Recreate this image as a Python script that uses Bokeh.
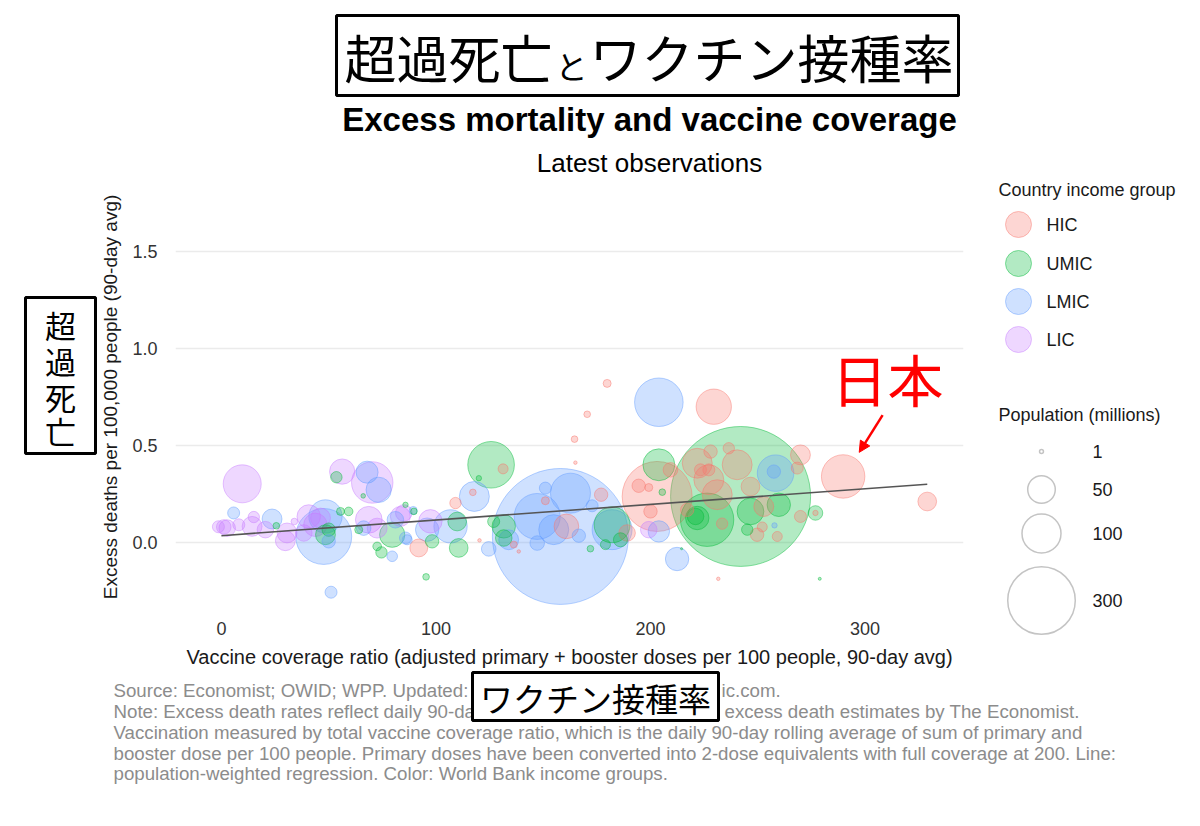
import numpy as np
from bokeh.plotting import figure
from bokeh.models import Range1d, ColumnDataSource, Arrow, NormalHead, FixedTicker, NumeralTickFormatter, Plot
from bokeh.layouts import column, row
from bokeh.embed import file_html
from bokeh.resources import INLINE
from bokeh.core.properties import value

# ---------------- data ----------------
groups = ["HIC", "UMIC", "LMIC", "LIC"]
group_colors = ["#F8766D", "#00BA38", "#619CFF", "#C77CFF"]

hic_x = [92.0, 131.3, 117.2, 109.1, 120.3, 151.0, 160.8, 177.0, 136.3, 138.6, 179.8, 170.5, 164.6, 165.0,
         229.5, 203.1, 209.3, 194.5, 199.2, 200.0, 231.6, 221.8, 223.3, 227.2, 228.0, 236.5, 240.4, 227.2,
         231.1, 269.9, 246.6, 268.4, 217.1, 233.4, 252.8, 249.7, 252.1, 259.1, 269.9, 276.9, 289.8, 329.0, 189.1]
hic_y = [-0.027, 0.38, 0.259, 0.204, 0.012, 0.216, 0.084, 0.247, -0.010, -0.045, 0.820, 0.661, 0.533, 0.412,
         0.700, 0.238, 0.375, 0.293, 0.284, 0.161, -0.186, 0.409, 0.375, 0.375, 0.469, 0.486, 0.401, 0.324,
         0.247, 0.452, 0.289, 0.384, 0.169, 0.098, 0.186, 0.041, 0.081, 0.032, 0.135, 0.153, 0.341, 0.212, 0.050]
hic_pop = [21, 6.6, 2.9, 8.5, 0.8, 4.2, 40, 11.8, 3.2, 0.8, 4.2, 2.9, 2.9, 0.8,
           82, 322, 14, 11.8, 4.2, 11.8, 0.8, 59, 9.5, 9.5, 11.8, 8.5, 59, 59,
           59, 26, 23, 9.5, 11.8, 8.5, 26, 11.8, 6.6, 6.6, 9.5, 1.9, 124, 23, 18]

umic_x = [53.6, 66.1, 55.5, 59.3, 64.0, 79.6, 85.8, 72.6, 74.6, 48.5, 50.0, 25.6, 125.7, 120.0, 110.6, 95.4,
          109.9, 98.2, 89.7, 131.6, 131.6, 126.9, 182.1, 172.0, 203.9, 205.5, 214.5, 278.9, 242.0, 226.4,
          221.8, 221.0, 246.6, 259.8, 245.1, 276.9, 186.0, 179.0]
umic_y = [0.337, 0.241, 0.161, 0.161, 0.067, 0.041, 0.195, -0.019, -0.050, 0.041, 0.067, 0.087, 0.401, 0.332,
          -0.027, -0.176, 0.109, 0.007, 0.161, 0.084, 0.024, 0.109, 0.092, -0.031, 0.401, 0.260, -0.031, -0.186,
          0.238, 0.118, 0.127, 0.135, 0.161, 0.195, 0.067, 0.153, 0.015, -0.010]
umic_pop = [8.5, 1.4, 4.2, 4.9, 4.2, 42, 1.9, 4.9, 8.5, 26, 11.8, 2.9, 143, 1.9, 23, 2.9,
            23, 11.8, 2.9, 36, 18, 9.5, 85, 2.9, 67, 2.9, 0.3, 0.6, 1289, 187,
            36, 18, 47, 36, 8.5, 14, 13, 6.6]

lmic_x = [5.7, 23.6, 47.7, 48.5, 50.0, 67.9, 73.3, 66.3, 81.1, 89.4, 79.6, 85.8, 51.1, 117.9, 124.6, 106.8,
          95.9, 158.0, 162.7, 147.2, 151.0, 154.9, 147.2, 166.6, 172.8, 182.1, 133.9, 203.9, 203.9, 212.4,
          258.3, 257.5, 257.8, 86.6]
lmic_y = [0.153, 0.122, 0.032, 0.135, 0.007, 0.363, 0.272, 0.075, 0.118, 0.166, -0.070, 0.024, -0.255, 0.238,
          -0.032, 0.084, 0.067, 0.032, 0.255, 0.135, 0.281, 0.067, -0.002, 0.036, 0.190, 0.067, 0.015, 0.723,
          0.058, -0.084, 0.358, 0.366, 0.089, 0.015]
lmic_pop = [9.5, 26, 206, 73, 11.8, 32, 42, 14, 18, 4.2, 7.4, 9.5, 9.5, 59, 14, 73,
            36, 1216, 105, 139, 9.5, 59, 14, 11.8, 9.5, 105, 26, 155, 30, 36,
            88, 11.8, 1.9, 6.6]

lic_x = [9.7, 1.1, 8.1, 15.1, 20.5, 29.8, 30.6, 34.0, 40.7, 38.4, 46.2, 56.3, 70.3, 68.7, 72.6, 83.4,
         2.7, 97.4, 85.0, 199.2, -1.4, 14.3, 43.8]
lic_y = [0.303, 0.081, 0.092, 0.132, 0.067, 0.010, 0.050, 0.109, 0.135, 0.050, 0.127, 0.366, 0.310, 0.118,
         0.075, 0.135, 0.075, 0.110, 0.153, 0.067, 0.082, 0.084, 0.092]
lic_pop = [95, 14, 9.5, 8.5, 18, 26, 26, 2.9, 36, 18, 26, 42, 113, 47, 26, 26,
           18, 36, 18, 18, 9.5, 26, 36]

# population-weighted regression line
reg_x = [0, 329]
reg_y = [0.036, 0.301]

x_ticks = [0, 100, 200, 300]
y_ticks = [0, 0.5, 1.0, 1.5]
size_legend_pops = [1, 50, 100, 300]

SIZE_K = 3.9  # diameter px per sqrt(million)

HAS_FRAME_ALIGN = "frame_align" in Plot.properties()


def no_align(f):
    if HAS_FRAME_ALIGN:
        f.frame_align = False
    return f


# ---------------- helpers ----------------
def deco(width, height, x0, x1, y0, y1):
    f = figure(width=width, height=height, x_range=Range1d(x0, x1), y_range=Range1d(y1, y0),
               x_axis_type=None, y_axis_type=None, min_border=0, toolbar_location=None,
               output_backend="svg", outline_line_color=None)
    f.grid.visible = False
    return no_align(f)

SANS = value("Liberation Sans")
CJK = value("Noto Sans CJK JP")

# ---------------- top titles ----------------
top = deco(1192, 178, 0, 1192, 0, 178)
top.quad(left=[336], right=[958], top=[15], bottom=[95], fill_color="white", line_color="black", line_width=3)
top.text(x=[344], y=[56], text=["超過死亡"], text_font=CJK, text_font_size="52px",
         text_baseline="middle", text_align="left", text_color="black")
top.text(x=[555], y=[64], text=["と"], text_font=CJK, text_font_size="32px",
         text_baseline="middle", text_align="left", text_color="black")
top.text(x=[589], y=[56], text=["ワクチン接種率"], text_font=CJK, text_font_size="52px",
         text_baseline="middle", text_align="left", text_color="black")
top.text(x=[649], y=[119], text=["Excess mortality and vaccine coverage"], text_font=SANS,
         text_font_size="33px", text_font_style="bold", text_baseline="middle", text_align="center",
         text_color="black")
top.text(x=[649], y=[162], text=["Latest observations"], text_font=SANS, text_font_size="26px",
         text_baseline="middle", text_align="center", text_color="black")

# ---------------- left box ----------------
left = deco(97, 492, 0, 97, 178, 670)
left.quad(left=[25], right=[95], top=[297], bottom=[453], fill_color="white", line_color="black", line_width=3)
left.text(x=[60, 60, 60, 60], y=[324, 360, 396, 430], text=["超", "過", "死", "亡"], text_font=CJK,
          text_font_size="31px", text_baseline="middle", text_align="center", text_color="black")

# ---------------- main plot ----------------
p = figure(width=883, height=492, x_range=Range1d(-21.4, 345.9), y_range=Range1d(-0.344, 1.844),
           min_border_left=78, min_border_right=17, min_border_top=6, min_border_bottom=60,
           toolbar_location=None, output_backend="svg", outline_line_color=None)
no_align(p)
p.xgrid.visible = False
p.ygrid.grid_line_color = "#ebebeb"
p.ygrid.grid_line_width = 1.5
p.xaxis.ticker = FixedTicker(ticks=x_ticks)
p.yaxis.ticker = FixedTicker(ticks=y_ticks)
p.yaxis.formatter = NumeralTickFormatter(format="0.0")
for ax in (p.xaxis, p.yaxis):
    ax.axis_line_color = None
    ax.major_tick_line_color = None
    ax.minor_tick_line_color = None
    ax.major_label_text_font = "Liberation Sans"
    ax.major_label_text_font_size = "18px"
    ax.major_label_text_color = "#333333"
    ax.axis_label_text_font = "Liberation Sans"
    ax.axis_label_text_font_size = "20px"
    ax.axis_label_text_font_style = "normal"
    ax.axis_label_text_color = "#1a1a1a"
p.yaxis.axis_label_text_font_size = "19px"
p.xaxis.major_label_standoff = 6
p.yaxis.major_label_standoff = 12
p.xaxis.axis_label_standoff = 8
p.yaxis.axis_label_standoff = 8
p.xaxis.axis_label = "Vaccine coverage ratio (adjusted primary + booster doses per 100 people, 90-day avg)"
p.yaxis.axis_label = "Excess deaths per 100,000 people (90-day avg)"

xs, ys, pops, cols = [], [], [], []
for gx, gy, gp, c in [(hic_x, hic_y, hic_pop, group_colors[0]), (umic_x, umic_y, umic_pop, group_colors[1]),
                      (lmic_x, lmic_y, lmic_pop, group_colors[2]), (lic_x, lic_y, lic_pop, group_colors[3])]:
    xs += gx; ys += gy; pops += gp; cols += [c] * len(gx)
order = np.argsort(pops)[::-1]
src = ColumnDataSource(dict(
    x=[xs[i] for i in order], y=[ys[i] for i in order],
    size=[SIZE_K * np.sqrt(pops[i]) for i in order], color=[cols[i] for i in order]))
p.scatter("x", "y", size="size", source=src, fill_color="color", line_color="color",
          fill_alpha=0.3, line_alpha=0.45, line_width=1)
p.line(reg_x, reg_y, line_color="#555555", line_width=1.6)

# annotation for Japan
p.text(x=[310.5], y=[0.85], text=["日本"], text_font=CJK, text_font_size="56px", text_color="#ff0000",
       text_align="center", text_baseline="middle")
p.add_layout(Arrow(end=NormalHead(size=11, fill_color="#ff0000", line_color="#ff0000"),
                   x_start=308.2, y_start=0.657, x_end=297.3, y_end=0.465,
                   line_color="#ff0000", line_width=2.5))

# ---------------- legends ----------------
leg = deco(212, 492, 980, 1192, 178, 670)
leg.text(x=[998], y=[189], text=["Country income group"], text_font=SANS, text_font_size="18px",
         text_baseline="middle", text_align="left", text_color="#1a1a1a")
leg_y = [224, 263, 301, 339]
leg.scatter(x=[1018] * 4, y=leg_y, size=26, fill_color=group_colors, line_color=group_colors,
            fill_alpha=0.3, line_alpha=0.45)
leg.text(x=[1046] * 4, y=leg_y, text=groups, text_font=SANS, text_font_size="18px",
         text_baseline="middle", text_align="left", text_color="#1a1a1a")
leg.text(x=[998], y=[414], text=["Population (millions)"], text_font=SANS, text_font_size="18px",
         text_baseline="middle", text_align="left", text_color="#1a1a1a")
size_y = [451, 489, 533, 600]
leg.scatter(x=[1041] * 4, y=size_y, size=[SIZE_K * np.sqrt(v) for v in size_legend_pops],
            fill_color=None, line_color="#c4c4c4", line_width=1.5)
leg.text(x=[1092] * 4, y=size_y, text=[str(v) for v in size_legend_pops], text_font=SANS,
         text_font_size="18px", text_baseline="middle", text_align="left", text_color="#1a1a1a")

# ---------------- notes ----------------
notes = deco(1192, 148, 0, 1192, 670, 818)
note_color = "#8c8c8c"
NOTE_FS = "18.7px"
note_lines = [
    "Vaccination measured by total vaccine coverage ratio, which is the daily 90-day rolling average of sum of primary and",
    "booster dose per 100 people. Primary doses have been converted into 2-dose equivalents with full coverage at 200. Line:",
    "population-weighted regression. Color: World Bank income groups.",
]
notes.text(x=[113] * 3, y=[732, 753, 773], text=note_lines, text_font=SANS, text_font_size=NOTE_FS,
           text_baseline="middle", text_align="left", text_color=note_color)
notes.text(x=[113, 113], y=[690, 711], text=["Source: Economist; OWID; WPP. Updated:",
                                             "Note: Excess death rates reflect daily 90-da"],
           text_font=SANS, text_font_size=NOTE_FS, text_baseline="middle", text_align="left", text_color=note_color)
notes.text(x=[721, 724], y=[690, 711], text=["ic.com.", "excess death estimates by The Economist."],
           text_font=SANS, text_font_size=NOTE_FS, text_baseline="middle", text_align="left", text_color=note_color)
notes.quad(left=[472], right=[718], top=[672], bottom=[720], fill_color="white", line_color="black", line_width=3)
notes.text(x=[595], y=[697], text=["ワクチン接種率"], text_font=CJK, text_font_size="33px",
           text_baseline="middle", text_align="center", text_color="black")

layout = column(top, row(left, p, leg), notes)
open("out.html", "w").write(file_html(layout, INLINE))
